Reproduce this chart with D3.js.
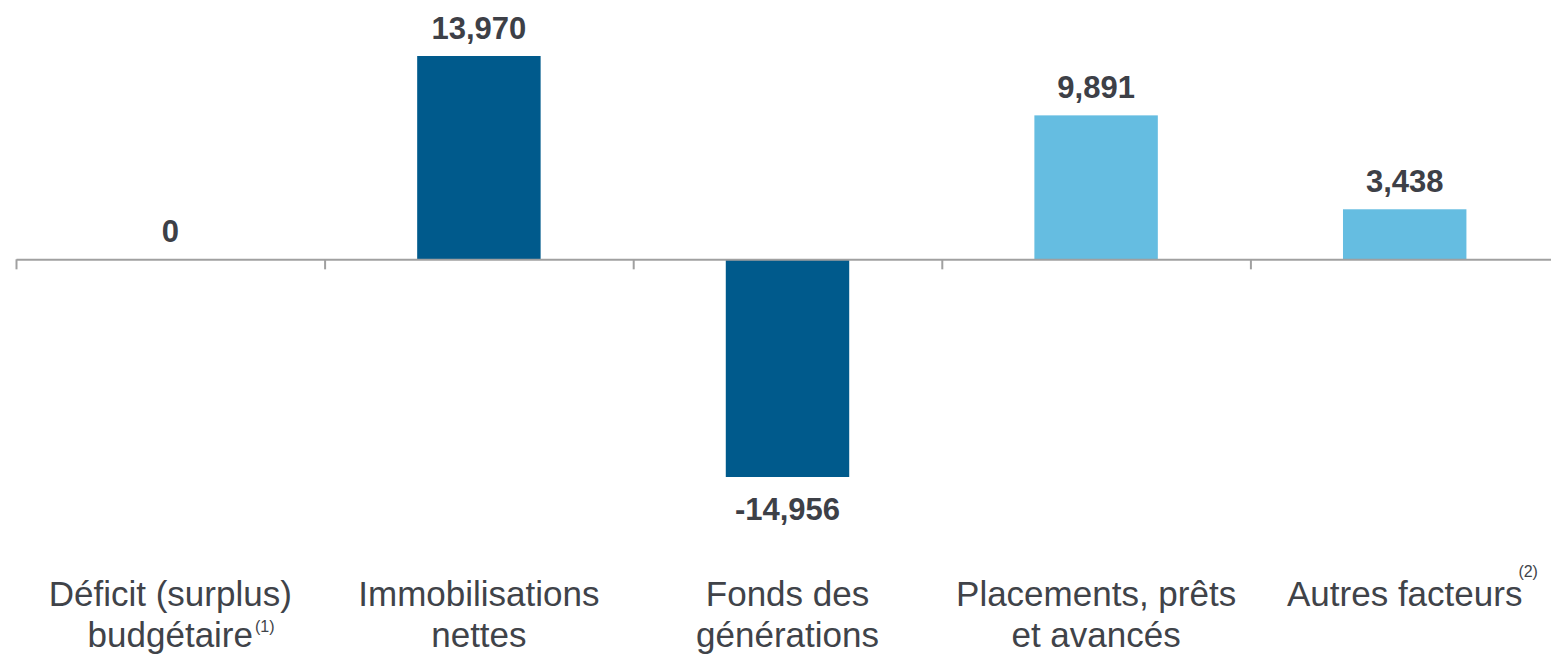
<!DOCTYPE html>
<html>
<head>
<meta charset="utf-8">
<script src="https://cdn.jsdelivr.net/npm/d3@7"></script>
<style>
  body { margin: 0; background: #fff; }
  svg { display: block; font-family: "Liberation Sans", Arial, sans-serif; }
</style>
</head>
<body>
<svg></svg>
<script>
// data
let categories = ['Déficit (surplus) budgétaire', 'Immobilisations nettes', 'Fonds des générations', 'Placements, prêts et avancés', 'Autres facteurs']
let values = [0, 13970, -14956, 9891, 3438]
let labelLines = [
    ['Déficit (surplus)', 'budgétaire'],
    ['Immobilisations', 'nettes'],
    ['Fonds des', 'générations'],
    ['Placements, prêts', 'et avancés'],
    ['Autres facteurs']
]
let notes = ['(1)', '', '', '', '(2)']
let noteLine = [1, 0, 0, 0, 0]

// layout / styles
let width = 1551
let height = 654
let left = 16
let right = 1559
let yTop = 56
let yBottom = 477
let barColors = ['#005a8c', '#005a8c', '#005a8c', '#65bde1', '#65bde1']
let noteDx = [2, 0, 0, 0, -4]
let noteDy = [-15, 0, 0, 0, -29]
let valueColor = '#3d4047'
let textColor = '#404349'

let svg = d3.select('svg')
    .attr('width', width)
    .attr('height', height)

let xScale = d3.scaleBand()
    .domain(categories)
    .range([left, right])
    .padding(0)

let yScale = d3.scaleLinear()
    .domain([d3.min(values), d3.max(values)])
    .range([yBottom, yTop])

let barWidth = xScale.bandwidth() * 0.4
let y0 = yScale(0)

// bars
svg.selectAll('rect.bar')
    .data(values)
    .enter()
    .append('rect')
    .attr('class', 'bar')
    .attr('x', (d, i) => xScale(categories[i]) + (xScale.bandwidth() - barWidth) / 2)
    .attr('y', (d) => Math.min(yScale(d), y0))
    .attr('width', barWidth)
    .attr('height', (d) => Math.abs(yScale(d) - y0))
    .attr('fill', (d, i) => barColors[i])

// axis at zero, ticks between categories
let tickScale = d3.scaleLinear()
    .domain([0, categories.length])
    .range([left, right])

let xAxis = d3.axisBottom(tickScale)
    .tickValues(d3.range(categories.length + 1))
    .tickSize(10)
    .tickSizeOuter(0)
    .tickFormat('')

let axisG = svg.append('g')
    .attr('transform', 'translate(0,' + y0 + ')')
    .call(xAxis)
axisG.select('.domain').attr('stroke', '#a0a0a0').attr('stroke-width', 2)
axisG.selectAll('.tick line').attr('stroke', '#a0a0a0').attr('stroke-width', 2)

// value labels
svg.selectAll('text.value')
    .data(values)
    .enter()
    .append('text')
    .attr('class', 'value')
    .attr('x', (d, i) => xScale(categories[i]) + xScale.bandwidth() / 2)
    .attr('y', (d) => d < 0 ? yScale(d) + 43 : yScale(d) - 17)
    .attr('text-anchor', 'middle')
    .attr('font-size', 31)
    .attr('font-weight', 'bold')
    .attr('fill', valueColor)
    .text((d) => d3.format(',')(d).replace('−', '-'))

// category labels
labelLines.forEach((lines, i) => {
    let cx = xScale(categories[i]) + xScale.bandwidth() / 2
    lines.forEach((line, j) => {
        let baseY = 606 + j * 41
        let t = svg.append('text')
            .attr('x', cx)
            .attr('y', baseY)
            .attr('text-anchor', 'middle')
            .attr('font-size', 35)
            .attr('fill', textColor)
            .text(line)
        if (notes[i] && noteLine[i] == j) {
            let len = t.node().getComputedTextLength()
            svg.append('text')
                .attr('x', cx + len / 2 + noteDx[i])
                .attr('y', baseY + noteDy[i])
                .attr('font-size', 16)
                .attr('fill', textColor)
                .text(notes[i])
        }
    })
})
</script>
</body>
</html>
